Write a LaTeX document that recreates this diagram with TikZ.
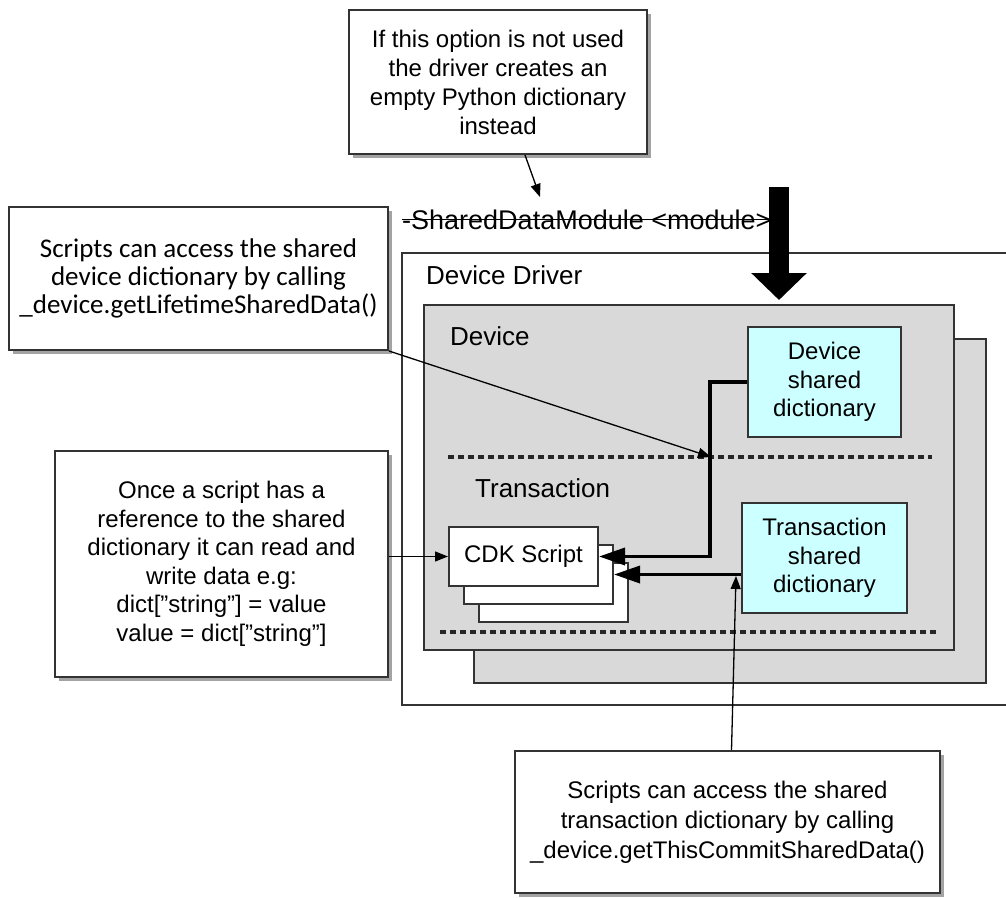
\documentclass[tikz,border=0pt]{standalone}
\usepackage{fontspec}
\setmainfont{Liberation Sans}
\newfontfamily\calfont{Carlito}
\usetikzlibrary{arrows.meta,shadows,calc}

\definecolor{panelgray}{HTML}{D9D9D9}
\definecolor{dictcyan}{HTML}{CCFFFF}
\definecolor{edgegray}{HTML}{333333}
\newcommand{\dq}{\char34\relax}

\tikzstyle{note}=[draw=edgegray,line width=2pt,fill=white,align=center,inner sep=0pt,
  drop shadow={shadow xshift=4pt,shadow yshift=-4pt,fill=black!40,opacity=.9},
  font=\fontsize{24}{29}\selectfont]
\tikzstyle{panel}=[draw=edgegray,line width=2pt,fill=panelgray]
\tikzstyle{dict}=[draw=edgegray,line width=2pt,fill=dictcyan,align=center,inner sep=0pt,
  font=\fontsize{24}{28.5}\selectfont]
\tikzstyle{page}=[draw=edgegray,line width=2pt,fill=white,inner sep=0pt,
  minimum width=149pt,minimum height=59pt,font=\fontsize{24}{29}\selectfont]
\tikzstyle{areatext}=[inner sep=0pt,anchor=base west,font=\fontsize{26}{30}\selectfont]
\tikzstyle{divider}=[draw=black!85,line width=3.5pt,dash pattern=on 6pt off 4pt]
\tikzstyle{feed}=[draw=black,line width=3.5pt,-{Triangle[length=26pt,width=17pt]}]
\tikzstyle{pointer}=[draw=black,line width=1.3pt,-{Triangle[length=13pt,width=10pt]}]

\begin{document}
\begin{tikzpicture}[x=1pt,y=-1pt]
    \useasboundingbox (0,0) rectangle (1006,897);

    % Notes around the driver
    \node[note,minimum width=298pt,minimum height=144pt] (optnote) at (498,82)
        {If this option is not used\\the driver creates an\\empty Python dictionary\\instead};
    \node[note,minimum width=379pt,minimum height=143pt,font={\calfont\fontsize{27}{28}\selectfont}] (devnote) at (198.5,278.5)
        {Scripts can access the shared\\device dictionary by calling\\\_device.getLifetimeSharedData()};
    \node[note,minimum width=333pt,minimum height=226pt,font=\fontsize{24}{28.5}\selectfont] (scriptnote) at (221.5,564)
        {Once a script has a\\reference to the shared\\dictionary it can read and\\write data e.g:\\dict[\dq string\dq] = value\\value = dict[\dq string\dq]};
    \node[note,minimum width=425pt,minimum height=142pt,font=\fontsize{24}{30}\selectfont] (trnote) at (727.5,822)
        {Scripts can access the shared\\transaction dictionary by calling\\\_device.getThisCommitSharedData()};

    % Device driver frame, open to the right
    \draw[edgegray,line width=2pt] (1006,253) -| (402,705) -- (1006,705);
    \node[areatext] (drvlabel) at (426,284) {Device Driver};

    % Stacked device panels
    \draw[panel] (474,339) rectangle (986,683);
    \draw[panel] (424,305) rectangle (954,650);
    \node[areatext] (devlabel) at (450,345) {Device};
    \node[areatext] (trlabel) at (475,497) {Transaction};
    \foreach \ya/\xa/\xb in {457/448/932, 632/440/936}
        \draw[divider] (\xa,\ya) -- (\xb,\ya);

    % Shared dictionaries
    \node[dict,minimum width=153pt,minimum height=110pt] (devdict) at (824.5,382) {Device\\shared\\dictionary};
    \node[dict,minimum width=165pt,minimum height=110pt] (trdict) at (824.5,558) {Transaction\\shared\\dictionary};

    % Script pages, back to front
    \foreach \k/\name in {2/cdkc,1/cdkb}
        \node[page] (\name) at (523.5+15*\k,556.5+18*\k) {};
    \node[page] (cdka) at (523.5,556.5) {CDK Script};

    % Dictionaries feed the scripts
    \draw[feed] (devdict.west) -- ++(-37,0) |- (cdka.east);
    \draw[feed] (cdkb.east -| trdict.west) -- (cdkb.east);

    % Module option, struck through
    \node[areatext,font=\fontsize{27}{30}\selectfont] (mod) at (402,229) {-SharedDataModule <module>};
    \draw[line width=1.3pt] (mod.west) -- (mod.east);
    \coordinate (bigtop) at (779,187);
    \coordinate (bigtip) at (779,300);
    \draw[line width=20pt,-{Triangle[length=27pt,width=54pt]}] (bigtop) -- (bigtip);

    % Pointers from the notes
    \coordinate (modin) at (540,197);
    \coordinate (dashx) at (711,457);
    \coordinate (trin) at (736,576);
    \draw[pointer] ($(optnote.south)+(27,0)$) -- (modin);
    \draw[pointer] (devnote.south east) -- (dashx);
    \draw[pointer] (scriptnote.east |- cdka.west) -- (cdka.west);
    \draw[pointer] ($(trnote.north)+(4,0)$) -- (trin);
\end{tikzpicture}
\end{document}
